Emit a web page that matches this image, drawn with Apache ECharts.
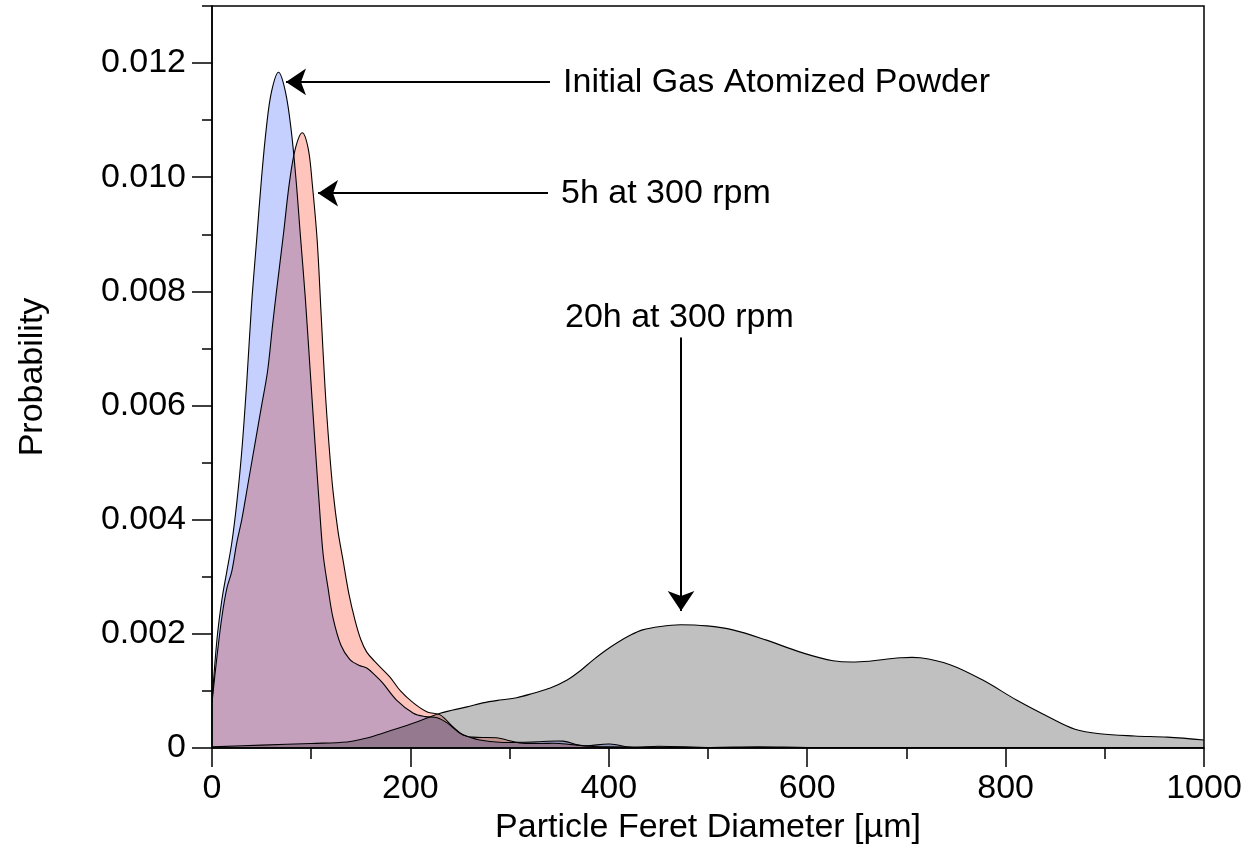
<!DOCTYPE html>
<html><head><meta charset="utf-8">
<script src="https://cdn.jsdelivr.net/npm/echarts@6/dist/echarts.min.js"></script>
<style>html,body{margin:0;padding:0;background:#fff}#c{width:1257px;height:863px}</style>
</head><body><div id="c"></div>
<script>
// ---- data (x in µm, y probability) ----
const initialPowder = [[0,0.0008],[5,0.0019],[10,0.0026],[15,0.0031],[20,0.0036],[25,0.0043],[30,0.0052],[35,0.0064],[40,0.0078],[45,0.0089],[50,0.0100],[55,0.0109],[60,0.0115],[67,0.01184],[74,0.0115],[80,0.0108],[85,0.0099],[89,0.0090],[94,0.0079],[99,0.0066],[104,0.0053],[108,0.0043],[112,0.0034],[117,0.0028],[122,0.00228],[130,0.0018],[139,0.00155],[148,0.00145],[156,0.0014],[164,0.00128],[172,0.00114],[186,0.00084],[203,0.00061],[215,0.00055],[227,0.00053],[237,0.00044],[250,0.00026],[260,0.00019],[270,0.00014],[290,0.0001],[310,0.0001],[330,0.00011],[354,0.00012],[374,0.00004],[401,0.00007],[424,0.00001],[450,0.00003],[500,0.00001],[550,0.00002],[600,0.00001],[700,0.00001],[800,0.00001],[900,0.00001],[1000,0.00001]];
const milled5h = [[0,0.0008],[5,0.0016],[10,0.0023],[15,0.0028],[20,0.0031],[25,0.0036],[30,0.0040],[37,0.0047],[44,0.0054],[50,0.0060],[56,0.0066],[61,0.0074],[65,0.0080],[72,0.0090],[78,0.0099],[84,0.0105],[91,0.01078],[97,0.0105],[101,0.0099],[106,0.0089],[110,0.0076],[114,0.0063],[118,0.0053],[122,0.0045],[127,0.0038],[132,0.0033],[138,0.0027],[144,0.00225],[150,0.0019],[156,0.00168],[165,0.00150],[179,0.00125],[190,0.00100],[203,0.00079],[217,0.00063],[230,0.00058],[243,0.00037],[253,0.00023],[263,0.00019],[287,0.00018],[297,0.00014],[310,0.00009],[330,0.00008],[350,0.00008],[380,0.00003],[400,0.00002],[500,0.00001],[600,0.00001],[800,0.00001],[1000,0.00001]];
const milled20h = [[0,0.00002],[50,0.00005],[100,0.00008],[136,0.000105],[155,0.00017],[172,0.00026],[190,0.00036],[207,0.00046],[230,0.00061],[257,0.00072],[273,0.00079],[290,0.00084],[307,0.00088],[324,0.00096],[341,0.00105],[358,0.00119],[371,0.00135],[384,0.00154],[396,0.0017],[408,0.00184],[421,0.00197],[434,0.00207],[452,0.00213],[472,0.00216],[499,0.00214],[525,0.00207],[559,0.00189],[593,0.00168],[626,0.00153],[653,0.00151],[694,0.00158],[714,0.00158],[744,0.00146],[777,0.00119],[811,0.00084],[845,0.00053],[870,0.00033],[895,0.00025],[930,0.00021],[963,0.00019],[1000,0.00014]];

const xTicks = [0,200,400,600,800,1000];
const yMajorTicks = [0,0.002,0.004,0.006,0.008,0.010,0.012];
const yMinorTicks = [0.001,0.003,0.005,0.007,0.009,0.011,0.013];

const annotationTexts = ['Initial Gas Atomized Powder','5h at 300 rpm','20h at 300 rpm'];
const annotationAnchors = [[353.8,0.011658],[351.8,0.00972],[355.8,0.007535]];
const arrows = [
  [[340.7,0.01167],[74.6,0.01167]],
  [[338.7,0.00972],[106.9,0.00972]],
  [[472.8,0.00719],[472.8,0.0024]]
];

const FONT = '"Liberation Sans", Arial, Helvetica, sans-serif';
const FILLS = ['#c0c0c0', '#c6d0ff', '#ffc5bd'];

function makeRender(points, fill) {
  return function (params, api) {
    if (params.dataIndex !== 0) return null;
    const pts = points.map(p => api.coord(p));
    const b0 = api.coord([points[0][0], 0]);
    const b1 = api.coord([points[points.length - 1][0], 0]);
    const poly = [b0].concat(pts, [b1]);
    const c = [b0.slice(), b0.slice()];
    return {
      type: 'group',
      children: [
        { type: 'polygon', silent: true, name: 'areaFill',
          shape: { points: poly, smooth: 0.35, smoothConstraint: c },
          style: { fill: fill, blend: 'multiply' } },
        { type: 'polyline', silent: true,
          shape: { points: pts, smooth: 0.35, smoothConstraint: c },
          style: { stroke: '#000', lineWidth: 1.1, fill: null } }
      ]
    };
  };
}

const chart = echarts.init(document.getElementById('c'), null, { renderer: 'canvas' });
chart.setOption({
  animation: false,
  backgroundColor: '#fff',
  grid: { left: 212, right: 53, top: 6, bottom: 115, show: true, borderColor: '#000', borderWidth: 1.5, containLabel: false },
  xAxis: [{
    type: 'value', min: 0, max: 1000, interval: 200,
    name: 'Particle Feret Diameter [µm]', nameLocation: 'middle', nameGap: 58,
    nameTextStyle: { fontSize: 34, color: '#000', fontFamily: FONT },
    axisLine: { show: true, lineStyle: { color: '#000', width: 1.5 } },
    axisTick: { show: true, length: 19, lineStyle: { color: '#000', width: 1.5 } },
    minorTick: { show: true, splitNumber: 2, length: 11, lineStyle: { color: '#000', width: 1.5 } },
    axisLabel: { fontSize: 34, color: '#000', fontFamily: FONT, margin: 24, customValues: xTicks,
      formatter: v => String(v) },
    splitLine: { show: false }, minorSplitLine: { show: false }
  }],
  yAxis: [{
    type: 'value', min: 0, max: 0.013,
    name: 'Probability', nameLocation: 'middle', nameGap: 162,
    nameTextStyle: { fontSize: 34, color: '#000', fontFamily: FONT },
    axisLine: { show: true, lineStyle: { color: '#000', width: 1.5 } },
    axisTick: { show: true, length: 20, customValues: yMajorTicks, lineStyle: { color: '#000', width: 1.5 } },
    axisLabel: { fontSize: 34, color: '#000', fontFamily: FONT, margin: 26, customValues: yMajorTicks,
      formatter: v => (v === 0 ? '0' : v.toFixed(3)) },
    splitLine: { show: false }
  }, {
    type: 'value', min: 0, max: 0.013, position: 'left',
    axisLine: { show: false },
    axisTick: { show: true, length: 10, customValues: yMinorTicks, lineStyle: { color: '#000', width: 1.5 } },
    axisLabel: { show: false },
    splitLine: { show: false }
  }],
  series: [
    { type: 'custom', name: '20h at 300 rpm', clip: true, data: milled20h, renderItem: makeRender(milled20h, FILLS[0]), z: 2 },
    { type: 'custom', name: 'Initial Gas Atomized Powder', clip: true, data: initialPowder, renderItem: makeRender(initialPowder, FILLS[1]), z: 3 },
    { type: 'custom', name: '5h at 300 rpm', clip: true, data: milled5h, renderItem: makeRender(milled5h, FILLS[2]), z: 4 },
    { type: 'line', data: [], silent: true, z: 10,
      markLine: {
        silent: true, animation: false,
        symbol: ['none', 'arrow'], symbolSize: [20, 20],
        label: { show: false },
        lineStyle: { color: '#000', width: 2, type: 'solid' },
        emphasis: { disabled: true },
        data: arrows.map(a => [{ coord: a[0] }, { coord: a[1] }])
      }
    },
    { type: 'scatter', data: annotationAnchors, symbolSize: 0.1, silent: true, z: 10,
      itemStyle: { color: 'rgba(0,0,0,0)' },
      emphasis: { disabled: true },
      label: { show: true, position: 'right', distance: 0, fontSize: 34, color: '#000', opacity: 1,
        textBorderWidth: 0, fontFamily: FONT,
        formatter: p => annotationTexts[p.dataIndex] }
    }
  ]
});

// make the overlapping filled areas combine multiplicatively, as in the reference
const zr = chart.getZr();
zr.storage.getDisplayList(true).forEach(el => {
  if (el.type === 'polygon' && el.style && FILLS.indexOf(el.style.fill) >= 0) {
    el.style.blend = 'multiply';
    el.markRedraw();
  }
});
zr.refreshImmediately();
</script></body></html>
